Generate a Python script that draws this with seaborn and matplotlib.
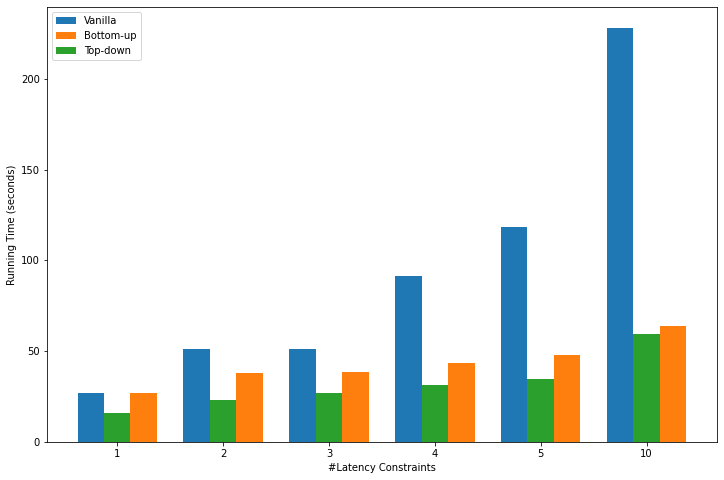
import matplotlib
matplotlib.use("Agg")
import matplotlib.pyplot as plt
import seaborn as sns
import pandas as pd

constraints = ["1", "2", "3", "4", "5", "10"]
vanilla = [27.1, 51.3, 51.3, 91.5, 118.3, 228.0]
top_down = [16.0, 23.2, 27.1, 31.3, 34.7, 59.3]
bottom_up = [27.1, 38.0, 38.5, 43.5, 47.8, 63.7]

series_order = ["Vanilla", "Top-down", "Bottom-up"]
legend_order = ["Vanilla", "Bottom-up", "Top-down"]
palette = {"Vanilla": "#1f77b4", "Bottom-up": "#ff7f0e", "Top-down": "#2ca02c"}

rows = []
for name, vals in zip(series_order, [vanilla, top_down, bottom_up]):
    for c, v in zip(constraints, vals):
        rows.append({"constraints": c, "time": v, "method": name})
df = pd.DataFrame(rows)

FS = 10
plt.rcParams["font.family"] = ["DejaVu Sans"]
plt.rcParams["font.size"] = FS

DPI = 72
fig, ax = plt.subplots(figsize=(724 / DPI, 480 / DPI), dpi=DPI)
fig.subplots_adjust(left=0.065, right=0.990, top=0.985, bottom=0.079)

sns.barplot(data=df, x="constraints", y="time", hue="method",
            order=constraints, hue_order=series_order, palette=palette,
            width=0.75, gap=0, saturation=1, errorbar=None, ax=ax)

ax.set_xlim(-0.6625, 5.6625)
ax.set_yticks([0, 50, 100, 150, 200])
ax.set_xlabel("#Latency Constraints", fontsize=FS)
ax.set_ylabel("Running Time (seconds)", fontsize=FS)
ax.tick_params(labelsize=FS)

handles, labels = ax.get_legend_handles_labels()
hmap = dict(zip(labels, handles))
ax.legend([hmap[l] for l in legend_order], legend_order, loc="upper left",
          fontsize=FS, title=None)

fig.savefig("out.png", dpi=DPI)
